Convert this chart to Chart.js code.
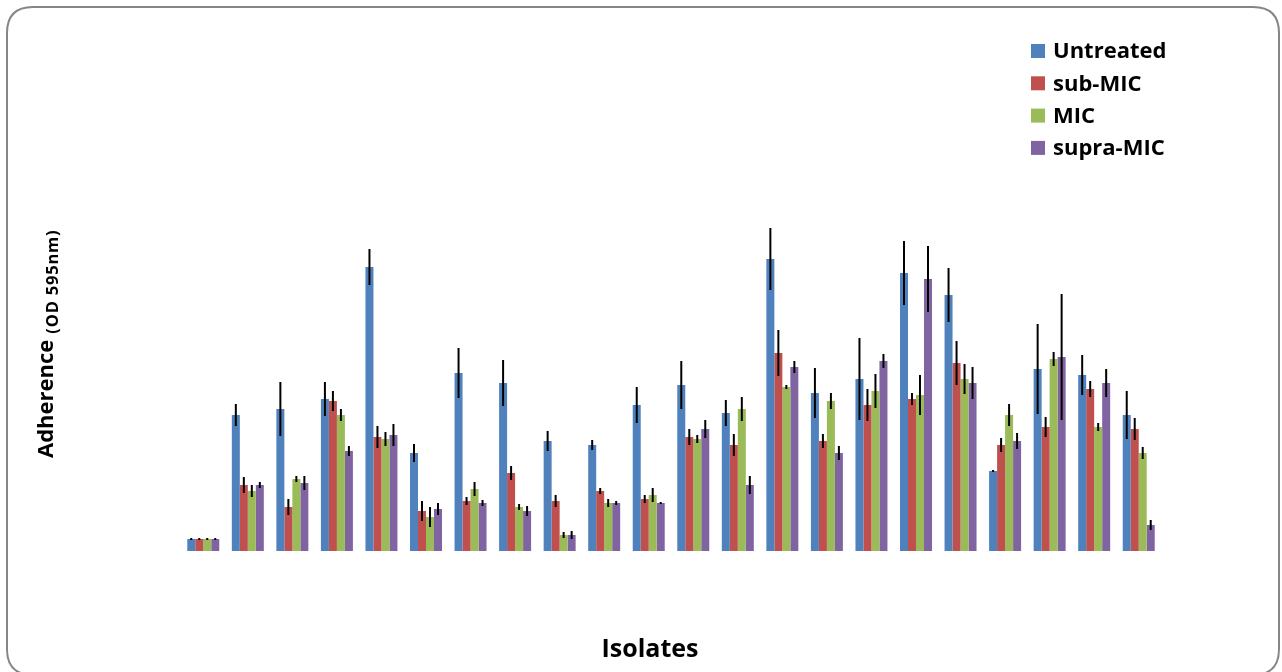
<!DOCTYPE html>
<html>
<head>
<meta charset="utf-8">
<title>Adherence by isolate</title>
<script src="https://cdn.jsdelivr.net/npm/chart.js@4/dist/chart.umd.min.js"></script>
<style>
  html, body { margin: 0; padding: 0; background: #fff; }
  #wrap { width: 1282px; height: 672px; position: relative; }
</style>
</head>
<body>
<div id="wrap"><canvas id="adhChart" width="1282" height="672"></canvas></div>
<script>
// isolates 1..22 (not labelled on the axis)
const isolates = ['1','2','3','4','5','6','7','8','9','10','11','12','13','14','15','16','17','18','19','20','21','22'];

// mean OD595 per treatment
const untreated = [0.06,0.68,0.71,0.76,1.42,0.49,0.89,0.84,0.55,0.53,0.73,0.83,0.69,1.46,0.79,0.86,1.39,1.28,0.40,0.91,0.88,0.68];
const subMic    = [0.06,0.33,0.22,0.75,0.57,0.20,0.25,0.39,0.25,0.30,0.26,0.57,0.53,0.99,0.55,0.73,0.76,0.94,0.53,0.62,0.81,0.61];
const mic       = [0.06,0.30,0.36,0.68,0.56,0.17,0.31,0.22,0.08,0.24,0.28,0.56,0.71,0.82,0.75,0.80,0.78,0.86,0.68,0.96,0.62,0.49];
const supraMic  = [0.06,0.33,0.34,0.50,0.58,0.21,0.24,0.20,0.08,0.24,0.24,0.61,0.33,0.92,0.49,0.95,1.36,0.84,0.55,0.97,0.84,0.13];

// standard deviations
const sdUntreated = [0.005,0.055,0.135,0.085,0.09,0.045,0.125,0.115,0.05,0.025,0.09,0.12,0.065,0.155,0.125,0.205,0.16,0.135,0.005,0.225,0.10,0.12];
const sdSubMic    = [0.005,0.04,0.04,0.05,0.055,0.05,0.02,0.035,0.03,0.015,0.02,0.04,0.055,0.115,0.035,0.08,0.03,0.11,0.035,0.05,0.04,0.055];
const sdMic       = [0.005,0.03,0.015,0.03,0.035,0.05,0.035,0.015,0.015,0.02,0.035,0.02,0.06,0.01,0.04,0.085,0.10,0.075,0.055,0.035,0.02,0.03];
const sdSupraMic  = [0.005,0.015,0.035,0.025,0.055,0.03,0.015,0.025,0.02,0.01,0.005,0.045,0.045,0.03,0.035,0.035,0.165,0.08,0.04,0.315,0.07,0.025];

const seriesNames = ['Untreated', 'sub-MIC', 'MIC', 'supra-MIC'];
const colors = ['#4F81BD', '#C0504D', '#9BBB59', '#8064A2'];

const FONT = '"Open Sans", "DejaVu Sans", sans-serif';

// rounded frame around the whole chart
const framePlugin = {
  id: 'frame',
  beforeDraw(chart) {
    const ctx = chart.ctx;
    const x = 7, y = 7, w = 1272, h = 668, r = 26;
    ctx.save();
    ctx.fillStyle = '#fff';
    ctx.fillRect(0, 0, chart.width, chart.height);
    ctx.beginPath();
    ctx.moveTo(x + r, y);
    ctx.lineTo(x + w - r, y);
    ctx.quadraticCurveTo(x + w, y, x + w, y + r);
    ctx.lineTo(x + w, y + h - r);
    ctx.quadraticCurveTo(x + w, y + h, x + w - r, y + h);
    ctx.lineTo(x + r, y + h);
    ctx.quadraticCurveTo(x, y + h, x, y + h - r);
    ctx.lineTo(x, y + r);
    ctx.quadraticCurveTo(x, y, x + r, y);
    ctx.closePath();
    ctx.lineWidth = 2;
    ctx.strokeStyle = '#868686';
    ctx.stroke();
    ctx.restore();
  }
};

// vertical error bars (no caps)
const errorBarPlugin = {
  id: 'errorBars',
  afterDatasetsDraw(chart) {
    const ctx = chart.ctx;
    const yScale = chart.scales.y;
    ctx.save();
    ctx.strokeStyle = '#000';
    ctx.lineWidth = 2;
    chart.data.datasets.forEach((ds, i) => {
      const meta = chart.getDatasetMeta(i);
      meta.data.forEach((bar, j) => {
        const v = ds.data[j], e = ds.errors[j];
        const yTop = Math.round(yScale.getPixelForValue(v + e));
        const yBot = Math.round(yScale.getPixelForValue(v - e));
        ctx.beginPath();
        ctx.moveTo(bar.x, yTop);
        ctx.lineTo(bar.x, Math.max(yBot, yTop + 2));
        ctx.stroke();
      });
    });
    ctx.restore();
  }
};

// legend and axis titles
const labelsPlugin = {
  id: 'labels',
  afterDraw(chart) {
    const ctx = chart.ctx;
    ctx.save();
    ctx.fillStyle = '#000';

    // legend
    ctx.font = 'bold 22px ' + FONT;
    ctx.textBaseline = 'middle';
    ctx.textAlign = 'left';
    seriesNames.forEach((name, i) => {
      const cy = 51 + i * 32.3;
      ctx.fillStyle = colors[i];
      ctx.fillRect(1031, cy - 7, 14, 14);
      ctx.fillStyle = '#000';
      ctx.fillText(name, 1053, cy + 1);
    });

    // x title
    ctx.font = 'bold 25px ' + FONT;
    ctx.textAlign = 'center';
    ctx.textBaseline = 'alphabetic';
    ctx.fillText('Isolates', 650, 657);

    // y title, rotated, with subscript unit
    ctx.translate(53, 458);
    ctx.rotate(-Math.PI / 2);
    ctx.textAlign = 'left';
    ctx.font = 'bold 22px ' + FONT;
    ctx.fillText('Adherence', 0, 0);
    const w = ctx.measureText('Adherence').width;
    ctx.font = 'bold 16.5px ' + FONT;
    ctx.letterSpacing = '0.8px';
    ctx.fillText('(OD 595nm)', w + 6, 5);
    ctx.restore();
  }
};

const seriesData = [untreated, subMic, mic, supraMic];
const seriesErr = [sdUntreated, sdSubMic, sdMic, sdSupraMic];

new Chart(document.getElementById('adhChart'), {
  type: 'bar',
  data: {
    labels: isolates,
    datasets: seriesNames.map((name, i) => ({
      label: name,
      data: seriesData[i],
      errors: seriesErr[i],
      backgroundColor: colors[i],
      borderWidth: 0,
      categoryPercentage: 0.718,
      barPercentage: 1.0
    }))
  },
  options: {
    responsive: false,
    animation: false,
    layout: { padding: { left: 181, right: 121, top: 51, bottom: 121 } },
    plugins: {
      legend: { display: false },
      tooltip: { enabled: false }
    },
    scales: {
      x: { display: false },
      y: { display: false, min: 0, max: 2.5 }
    }
  },
  plugins: [framePlugin, errorBarPlugin, labelsPlugin]
});
</script>
</body>
</html>
